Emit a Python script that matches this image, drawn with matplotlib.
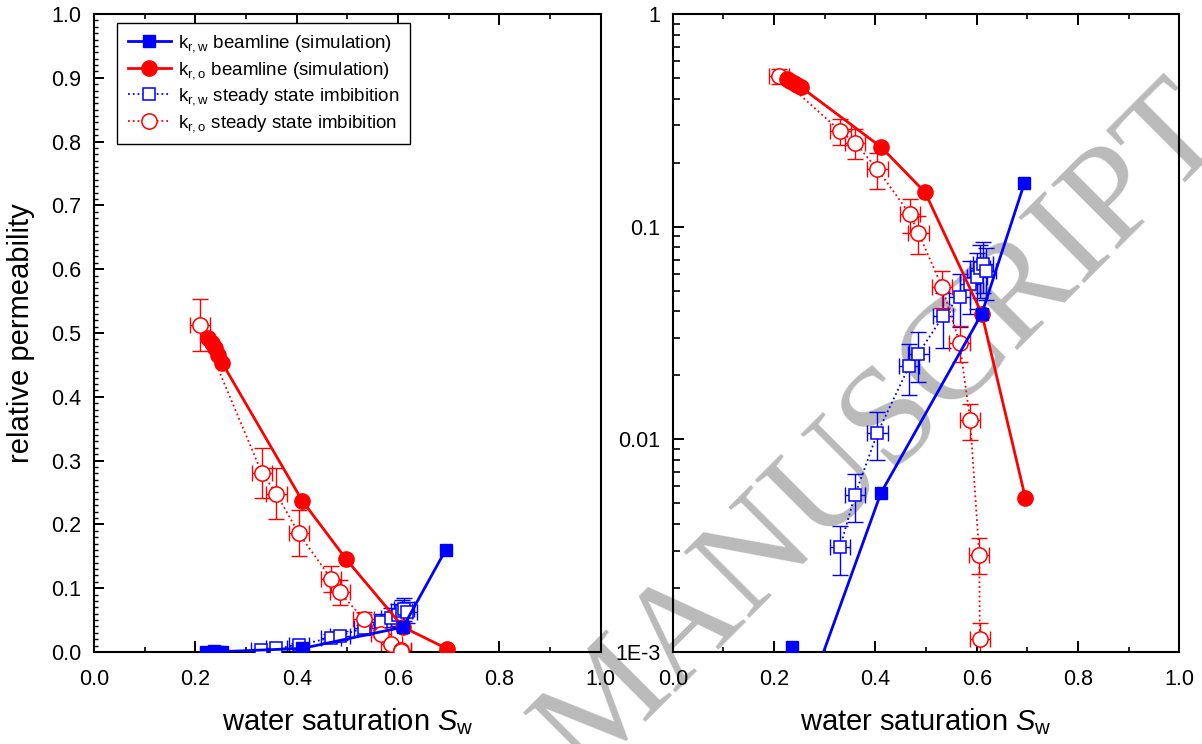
import matplotlib
matplotlib.use('Agg')
import matplotlib.pyplot as plt
from matplotlib.ticker import MultipleLocator, FixedLocator, FixedFormatter, LogLocator, NullFormatter

plt.rcParams['font.family'] = ['Liberation Sans', 'DejaVu Sans']
plt.rcParams['mathtext.fontset'] = 'custom'
plt.rcParams['mathtext.rm'] = 'Liberation Sans'
plt.rcParams['mathtext.it'] = 'Liberation Sans:italic'

# beamline (simulation)
sw_bl_w = [0.222, 0.236, 0.244, 0.252, 0.411, 0.610, 0.694]
kr_bl_w = [0.0001, 0.00105, 0.0002, 0.0005, 0.0056, 0.039, 0.160]
sw_bl_o = [0.225, 0.232, 0.239, 0.245, 0.253, 0.411, 0.498, 0.610, 0.696]
kr_bl_o = [0.492, 0.484, 0.476, 0.466, 0.453, 0.237, 0.145, 0.039, 0.0053]

# steady state imbibition
sw_ss_w = [0.330, 0.360, 0.404, 0.467, 0.485, 0.533, 0.566, 0.587, 0.600, 0.607, 0.612, 0.618]
kr_ss_w = [0.0031, 0.0055, 0.0107, 0.0222, 0.0253, 0.0378, 0.0469, 0.0537, 0.058, 0.064, 0.067, 0.062]
err_ss_w = [0.0008, 0.0014, 0.0027, 0.0060, 0.0068, 0.011, 0.013, 0.015, 0.017, 0.018, 0.018, 0.017]
sw_ss_o = [0.209, 0.331, 0.360, 0.404, 0.468, 0.485, 0.532, 0.566, 0.587, 0.605, 0.606]
kr_ss_o = [0.512, 0.281, 0.248, 0.186, 0.1145, 0.0933, 0.0518, 0.0285, 0.0123, 0.00287, 0.00115]
err_ss_o = [0.041, 0.039, 0.040, 0.036, 0.021, 0.019, 0.0103, 0.0055, 0.0024, 0.00055, 0.00022]
sw_err = 0.02

lab_bl_w = r'k$_\mathrm{r,w}$ beamline (simulation)'
lab_bl_o = r'k$_\mathrm{r,o}$ beamline (simulation)'
lab_ss_w = r'k$_\mathrm{r,w}$ steady state imbibition'
lab_ss_o = r'k$_\mathrm{r,o}$ steady state imbibition'

fig = plt.figure(figsize=(12.02, 7.44), dpi=100)
ax1 = fig.add_axes([0.0782, 0.1237, 0.4216, 0.8575])
ax2 = fig.add_axes([0.5597, 0.1237, 0.4215, 0.8575])

# watermark behind everything
fig.text(0.735, 0.42, 'MANUSCRIPT', rotation=45, rotation_mode='anchor', ha='center', va='center',
         fontsize=102, family='Liberation Serif', color='#bababa', zorder=-1)

def draw(ax):
    ax.set_facecolor('none')
    ax.errorbar(sw_ss_w, kr_ss_w, xerr=sw_err, yerr=err_ss_w, fmt='none', ecolor='blue',
                elinewidth=1, capsize=6, capthick=1, zorder=2)
    ax.errorbar(sw_ss_o, kr_ss_o, xerr=sw_err, yerr=err_ss_o, fmt='none', ecolor='red',
                elinewidth=1, capsize=6, capthick=1, zorder=2)
    ax.plot(sw_ss_w, kr_ss_w, ls=':', lw=1.3, color='blue', marker='s', ms=9, mfc='white',
            mec='blue', mew=1.1, label=lab_ss_w, zorder=3)
    ax.plot(sw_ss_o, kr_ss_o, ls=':', lw=1.3, color='red', marker='o', ms=11, mfc='white',
            mec='red', mew=1.1, label=lab_ss_o, zorder=3)
    ax.plot(sw_bl_o, kr_bl_o, ls='-', lw=2, color='red', marker='o', ms=11, label=lab_bl_o, zorder=4)
    ax.plot(sw_bl_w, kr_bl_w, ls='-', lw=2, color='blue', marker='s', ms=9, label=lab_bl_w, zorder=5)

    ax.set_xlim(0, 1)
    ax.xaxis.set_major_locator(MultipleLocator(0.2))
    ax.xaxis.set_minor_locator(MultipleLocator(0.1))
    ax.xaxis.set_major_formatter(plt.FormatStrFormatter('%.1f'))
    ax.set_xlabel(r'water saturation $\mathit{S}_\mathrm{w}$', fontsize=21, labelpad=12)
    for s in ax.spines.values():
        s.set_linewidth(1.5)
    ax.tick_params(which='both', direction='in', top=True, right=False, labelsize=15.5)
    ax.tick_params(axis='x', which='major', length=8, width=1.4, pad=12)
    ax.tick_params(axis='x', which='minor', length=3.8, width=1.2)
    ax.tick_params(axis='y', which='major', pad=9)

draw(ax1)
draw(ax2)

ax1.set_ylim(0, 1)
ax1.yaxis.set_major_locator(MultipleLocator(0.1))
ax1.yaxis.set_minor_locator(MultipleLocator(0.01))
ax1.yaxis.set_major_formatter(plt.FormatStrFormatter('%.1f'))
ax1.tick_params(axis='y', which='major', length=7, width=1.4)
ax1.tick_params(axis='y', which='minor', length=3, width=1)
ax1.set_ylabel('relative permeability', fontsize=21, labelpad=12)

h, l = ax1.get_legend_handles_labels()
order = [lab_bl_w, lab_bl_o, lab_ss_w, lab_ss_o]
hs = [h[l.index(o)] for o in order]
ax1.legend(hs, order, loc='upper left', bbox_to_anchor=(0.046, 0.986), borderaxespad=0,
           fontsize=13.5, fancybox=False, edgecolor='black', framealpha=1, handlelength=2.3,
           handletextpad=0.4, labelspacing=0.3, borderpad=0.55).get_frame().set_linewidth(1)

ax2.set_yscale('log')
ax2.set_ylim(1e-3, 1)
ax2.yaxis.set_major_locator(FixedLocator([1e-3, 1e-2, 1e-1, 1]))
ax2.yaxis.set_major_formatter(FixedFormatter(['1E-3', '0.01', '0.1', '1']))
ax2.yaxis.set_minor_locator(LogLocator(base=10, subs=range(2, 10)))
ax2.yaxis.set_minor_formatter(NullFormatter())
ax2.tick_params(axis='y', which='major', length=8, width=1.4)
ax2.tick_params(axis='y', which='minor', length=4.8, width=1.2)

fig.savefig('out.png', dpi=100)
